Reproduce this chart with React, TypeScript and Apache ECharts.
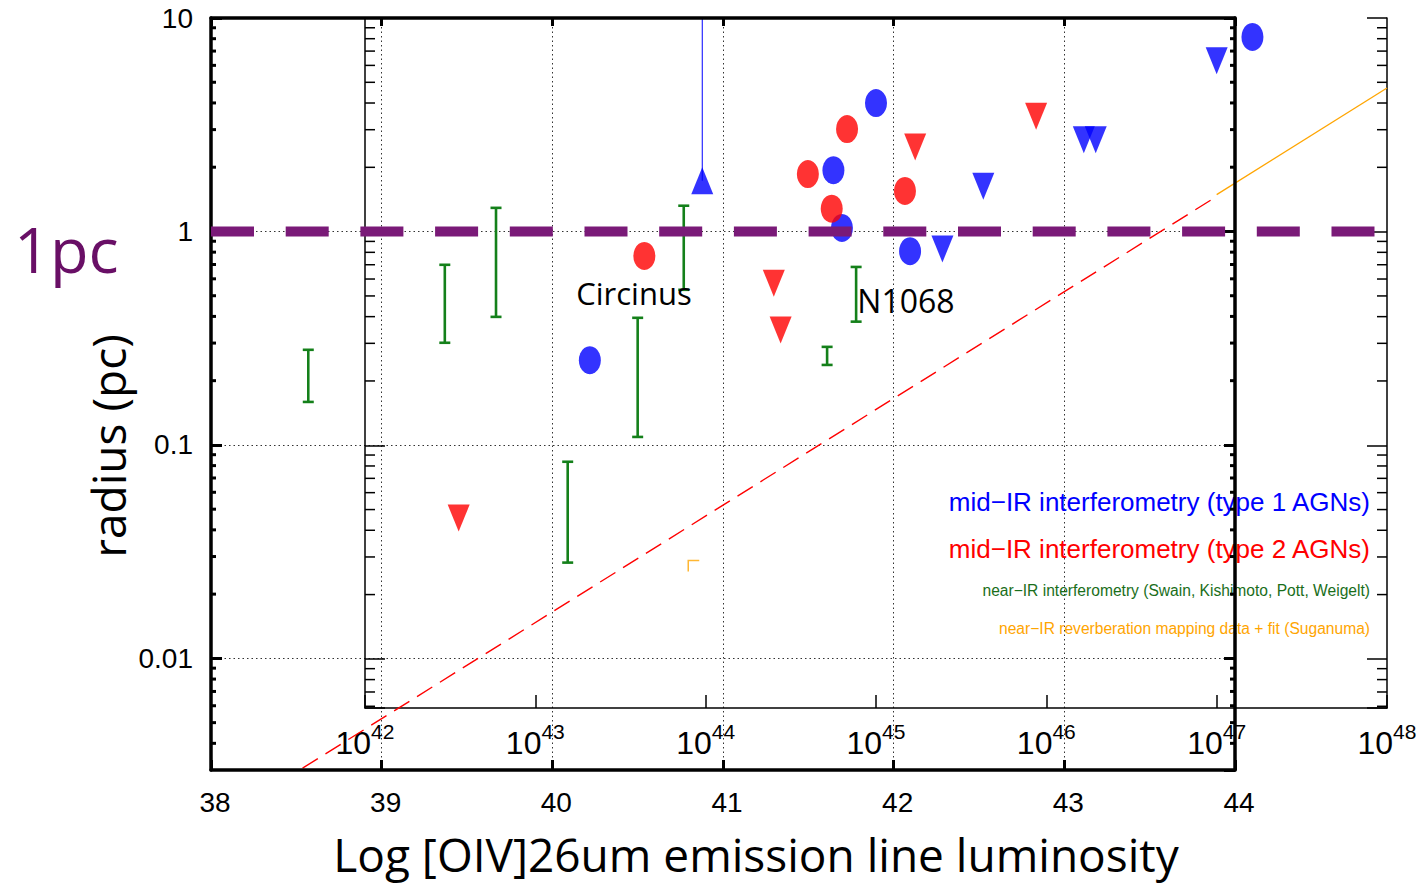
import React, { useEffect, useRef } from "react";
import * as echarts from "echarts";

// ---------- axes / ticks ----------
const outerXTicks = [38, 39, 40, 41, 42, 43, 44];
const innerXExponents = [42, 43, 44, 45, 46, 47, 48];
const radiusTickValues = [0.01, 0.1, 1, 10];
const radiusTickLabels = ["0.01", "0.1", "1", "10"];
const outerMinorTicks = [0.004, 0.005, 0.006, 0.007, 0.008, 0.009, 0.02, 0.03, 0.04, 0.05, 0.06, 0.07, 0.08, 0.09, 0.2, 0.3, 0.4, 0.5, 0.6, 0.7, 0.8, 0.9, 2, 3, 4, 5, 6, 7, 8, 9];
const innerMinorTicks = [0.006, 0.007, 0.008, 0.009, 0.02, 0.03, 0.04, 0.05, 0.06, 0.07, 0.08, 0.09, 0.2, 0.3, 0.4, 0.5, 0.6, 0.7, 0.8, 0.9, 2, 3, 4, 5, 6, 7, 8, 9];

// ---------- data: [log10 L (erg/s), radius (pc)] ----------
const type1Resolved = [[47.21, 8.15], [45.0, 4.0], [44.75, 1.94], [44.8, 1.04], [45.2, 0.81], [43.32, 0.25]];
const type2Resolved = [[44.6, 1.86], [44.83, 3.02], [44.74, 1.28], [45.17, 1.55], [43.64, 0.77]];
const type1Upper = [[47.0, 6.3], [46.22, 2.69], [46.29, 2.69], [45.63, 1.63], [45.39, 0.83]];
const type2Upper = [[45.94, 3.47], [45.23, 2.49], [44.4, 0.574], [44.44, 0.346], [42.55, 0.0456]];
const type1Lower = [[43.98, 1.73]];
const type1LowerArrow = [[43.98, 1.73], [43.98, 10]];
const reverbPoint = [[43.93, 0.0272]];
const fitL = [[47.0, 1.49], [48, 4.7]];

// ---------- data on [OIV] axis: [log10 L[OIV], r_min, r_max] ----------
const nearIRRanges = [
  [38.57, 0.159, 0.279], [39.37, 0.301, 0.698], [39.67, 0.398, 1.29], [40.09, 0.0281, 0.0834],
  [40.5, 0.109, 0.394], [40.77, 0.533, 1.32], [41.61, 0.237, 0.288], [41.78, 0.378, 0.682],
];
const fitOIV = [[38, 0.00165], [43.89, 1.455]];
const onePcLine = [[38, 1], [44.83, 1]];

const BLUE = "#0000FF";
const RED = "#FF0000";
const GREEN = "#14801a";
const ORANGE = "#FFA500";
const PURPLE = "#7A1A78";
const SANS = '"Liberation Sans", Arial, sans-serif';
const SLIDE = '"Open Sans", "Noto Sans", sans-serif';

const yLabel = (v: number) => {
  const i = radiusTickValues.findIndex((t) => Math.abs(Math.log10(v) - Math.log10(t)) < 1e-6);
  return i >= 0 ? radiusTickLabels[i] : "";
};

const minorTickSeries = (xi: number, yi: number, xMin: number, xMax: number, vals: number[], len: number, width: number) => ({
  type: "custom",
  xAxisIndex: xi,
  yAxisIndex: yi,
  silent: true,
  z: 6,
  data: vals.map((v) => [xMin, v]),
  encode: { x: 0, y: 1 },
  renderItem: (params: any, api: any) => {
    const v = api.value(1);
    const L = api.coord([xMin, v]);
    const R = api.coord([xMax, v]);
    const style = { stroke: "#000", lineWidth: width };
    return {
      type: "group",
      children: [
        { type: "line", shape: { x1: L[0], y1: L[1], x2: L[0] + len, y2: L[1] }, style },
        { type: "line", shape: { x1: R[0], y1: R[1], x2: R[0] - len, y2: R[1] }, style },
      ],
    };
  },
});

export default function App() {
  const ref = useRef<HTMLDivElement>(null);
  useEffect(() => {
    if (!ref.current) return;
    const chart = echarts.init(ref.current, undefined, { renderer: "svg" });
    const outerAxisLine = { show: true, onZero: false, lineStyle: { color: "#000", width: 3.5 } };
    const innerAxisLine = { show: true, onZero: false, lineStyle: { color: "#000", width: 1.5 } };
    const option: any = {
      animation: false,
      backgroundColor: "#fff",
      grid: [
        { left: 211, top: 18, width: 1024, height: 752, outerBoundsMode: "none", containLabel: false },
        { left: 365, top: 18, width: 1022, height: 690, outerBoundsMode: "none", containLabel: false },
        { left: 211, top: 18, width: 1176, height: 752, outerBoundsMode: "none", containLabel: false },
      ],
      xAxis: [
        {
          gridIndex: 0, type: "value", min: outerXTicks[0], max: outerXTicks[outerXTicks.length - 1], interval: 1, z: 5,
          axisLine: outerAxisLine,
          axisTick: { inside: true, length: 10, lineStyle: { color: "#000", width: 3 } },
          axisLabel: { color: "#000", fontSize: 28, fontFamily: SANS, margin: 18, padding: [0, 0, 0, 8] },
          splitLine: { show: false },
        },
        {
          gridIndex: 0, type: "value", position: "top", min: 38, max: 44, interval: 1, z: 5,
          axisLine: outerAxisLine,
          axisTick: { inside: true, length: 8, lineStyle: { color: "#000", width: 3 } },
          axisLabel: { show: false },
          splitLine: { show: false },
        },
        {
          gridIndex: 1, type: "value", min: innerXExponents[0], max: innerXExponents[innerXExponents.length - 1], interval: 1, z: 1,
          axisLine: innerAxisLine,
          axisTick: { inside: true, length: 13, lineStyle: { color: "#000", width: 1.5 } },
          axisLabel: {
            margin: 13,
            formatter: (v: number) => `{b|10}{s|${v}}`,
            rich: {
              b: { fontSize: 32, fontFamily: SANS, color: "#000", padding: [6, 0, 0, 0] },
              s: { fontSize: 21, fontFamily: SANS, color: "#000", verticalAlign: "top" },
            },
          },
          splitLine: { show: false },
        },
        {
          gridIndex: 0, type: "value", min: 38, max: 44, interval: 1, z: 0,
          axisLine: { show: false }, axisTick: { show: false }, axisLabel: { show: false },
          splitLine: { show: true, lineStyle: { color: "#333", width: 1, type: [1.5, 3] } },
        },
        { gridIndex: 2, type: "value", min: 38, max: 44.89, show: false },
      ],
      yAxis: [
        {
          gridIndex: 0, type: "log", logBase: 10, min: 0.003, max: 10, z: 5,
          axisLine: outerAxisLine,
          axisTick: { inside: true, length: 11, lineStyle: { color: "#000", width: 3 } },
          axisLabel: { color: "#000", fontSize: 28, fontFamily: SANS, margin: 18, showMinLabel: false, formatter: yLabel },
          splitLine: { show: false },
        },
        {
          gridIndex: 0, type: "log", logBase: 10, min: 0.003, max: 10, position: "right", z: 5,
          axisLine: outerAxisLine,
          axisTick: { inside: true, length: 11, lineStyle: { color: "#000", width: 3 } },
          axisLabel: { show: false },
          splitLine: { show: false },
        },
        {
          gridIndex: 1, type: "log", logBase: 10, min: 0.00589, max: 10, z: 1,
          axisLine: innerAxisLine,
          axisTick: { inside: true, length: 20, lineStyle: { color: "#000", width: 1.5 } },
          axisLabel: { show: false },
          splitLine: { show: false },
        },
        {
          gridIndex: 1, type: "log", logBase: 10, min: 0.00589, max: 10, position: "right", z: 1,
          axisLine: innerAxisLine,
          axisTick: { inside: true, length: 20, lineStyle: { color: "#000", width: 1.5 } },
          axisLabel: { show: false },
          splitLine: { show: false },
        },
        {
          gridIndex: 0, type: "log", logBase: 10, min: 0.003, max: 10, z: 0,
          axisLine: { show: false }, axisTick: { show: false }, axisLabel: { show: false },
          splitLine: { show: true, lineStyle: { color: "#333", width: 1, type: [1.5, 3] } },
        },
        { gridIndex: 2, type: "log", logBase: 10, min: 0.003, max: 10, show: false },
      ],
      graphic: [
        { type: "text", x: 14, y: 248, z: 10, style: { text: "1pc", fill: "#690F66", fontSize: 63, fontFamily: SLIDE, align: "left", verticalAlign: "middle" } },
        { type: "text", x: 108, y: 446, rotation: Math.PI / 2, z: 10, style: { text: "radius (pc)", fill: "#000", fontSize: 46, fontFamily: SLIDE, align: "center", verticalAlign: "middle" } },
        { type: "text", x: 756, y: 854, z: 10, style: { text: "Log [OIV]26um emission line luminosity", fill: "#000", fontSize: 46, fontFamily: SLIDE, align: "center", verticalAlign: "middle" } },
        { type: "text", x: 634, y: 293, z: 10, style: { text: "Circinus", fill: "#000", fontSize: 31, fontFamily: SLIDE, align: "center", verticalAlign: "middle" } },
        { type: "text", x: 906, y: 300, z: 10, style: { text: "N1068", fill: "#000", fontSize: 32, fontFamily: SLIDE, align: "center", verticalAlign: "middle" } },
        { type: "text", x: 1370, y: 502, z: 1, style: { text: "mid\u2212IR interferometry (type 1 AGNs)", fill: BLUE, fontSize: 26, fontFamily: SANS, align: "right", verticalAlign: "middle" } },
        { type: "text", x: 1370, y: 549, z: 1, style: { text: "mid\u2212IR interferometry (type 2 AGNs)", fill: RED, fontSize: 26, fontFamily: SANS, align: "right", verticalAlign: "middle" } },
        { type: "text", x: 1370, y: 590, z: 1, style: { text: "near\u2212IR interferometry (Swain, Kishimoto, Pott, Weigelt)", fill: "#1a6e1a", fontSize: 15.6, fontFamily: SANS, align: "right", verticalAlign: "middle" } },
        { type: "text", x: 1370, y: 628, z: 1, style: { text: "near\u2212IR reverberation mapping data + fit (Suganuma)", fill: ORANGE, fontSize: 15.6, fontFamily: SANS, align: "right", verticalAlign: "middle" } },
      ],
      series: [
        minorTickSeries(0, 0, 38, 44, outerMinorTicks, 5, 3),
        minorTickSeries(2, 2, 42, 48, innerMinorTicks, 10, 1.5),
        {
          type: "line", xAxisIndex: 2, yAxisIndex: 2, data: fitL, symbol: "none", z: 2,
          lineStyle: { color: ORANGE, width: 1.3 },
        },
        {
          type: "line", xAxisIndex: 0, yAxisIndex: 0, data: fitOIV, symbol: "none", z: 3,
          lineStyle: { color: RED, width: 1.4, type: [18, 9] },
        },
        {
          type: "line", xAxisIndex: 2, yAxisIndex: 2, data: type1LowerArrow, symbol: "none", z: 2,
          lineStyle: { color: BLUE, width: 1 },
        },
        {
          type: "custom", xAxisIndex: 0, yAxisIndex: 0, z: 3, data: nearIRRanges, encode: { x: 0, y: [1, 2] },
          renderItem: (params: any, api: any) => {
            const x = api.value(0);
            const lo = api.coord([x, api.value(1)]);
            const hi = api.coord([x, api.value(2)]);
            const w = 5.5;
            const style = { stroke: GREEN, lineWidth: 2.6 };
            return {
              type: "group",
              children: [
                { type: "line", shape: { x1: lo[0], y1: lo[1], x2: hi[0], y2: hi[1] }, style },
                { type: "line", shape: { x1: lo[0] - w, y1: lo[1], x2: lo[0] + w, y2: lo[1] }, style },
                { type: "line", shape: { x1: hi[0] - w, y1: hi[1], x2: hi[0] + w, y2: hi[1] }, style },
              ],
            };
          },
        },
        {
          type: "scatter", xAxisIndex: 2, yAxisIndex: 2, data: reverbPoint, z: 2,
          symbol: "path://M0,12L0,0L12,0", symbolSize: 11,
          itemStyle: { color: "none", borderColor: ORANGE, borderWidth: 1.5 },
        },
        { type: "scatter", xAxisIndex: 2, yAxisIndex: 2, data: type1Resolved, symbol: "circle", symbolSize: [22, 28], itemStyle: { color: BLUE }, z: 4 },
        { type: "scatter", xAxisIndex: 2, yAxisIndex: 2, data: type2Resolved, symbol: "circle", symbolSize: [22, 28], itemStyle: { color: RED }, z: 4 },
        { type: "scatter", xAxisIndex: 2, yAxisIndex: 2, data: type1Upper, symbol: "triangle", symbolRotate: 180, symbolSize: [22, 27], itemStyle: { color: BLUE }, z: 4 },
        { type: "scatter", xAxisIndex: 2, yAxisIndex: 2, data: type2Upper, symbol: "triangle", symbolRotate: 180, symbolSize: [22, 27], itemStyle: { color: RED }, z: 4 },
        { type: "scatter", xAxisIndex: 2, yAxisIndex: 2, data: type1Lower, symbol: "triangle", symbolSize: [22, 27], itemStyle: { color: BLUE }, z: 4 },
        {
          type: "line", xAxisIndex: 4, yAxisIndex: 5, data: onePcLine, symbol: "none", z: 20,
          lineStyle: { color: PURPLE, width: 10, type: [43, 31.7], cap: "butt" },
        },
      ],
    };
    chart.setOption(option);
    return () => chart.dispose();
  }, []);
  return (
    <div
      ref={ref}
      style={{ position: "absolute", left: 0, top: 0, width: 1416, height: 885, background: "#fff" }}
    />
  );
}
